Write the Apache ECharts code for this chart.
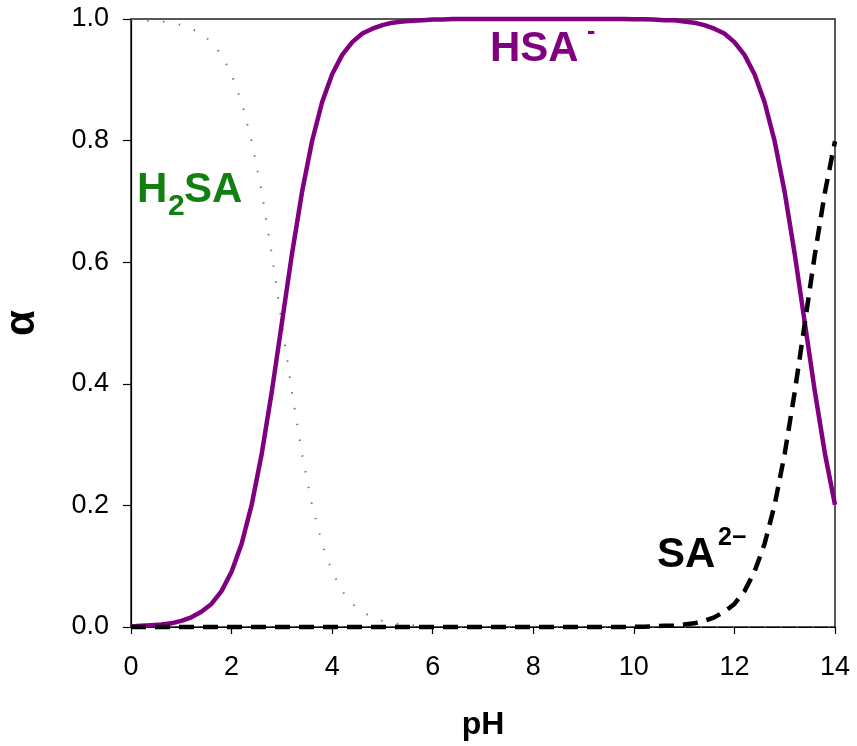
<!DOCTYPE html>
<html>
<head>
<meta charset="utf-8">
<script src="https://cdn.jsdelivr.net/npm/echarts@6/dist/echarts.min.js"></script>
<style>
html,body{margin:0;padding:0;background:#fff;}
#chart{width:857px;height:746px;}
</style>
</head>
<body>
<div id="chart"></div>
<script>
// pH sampling points
var pH = [0,0.2,0.4,0.6,0.8,1.0,1.2,1.4,1.6,1.8,2.0,2.2,2.4,2.6,2.8,3.0,3.2,3.4,3.6,3.8,
          4.0,4.2,4.4,4.6,4.8,5.0,5.2,5.4,5.6,5.8,6.0,6.2,6.4,6.6,6.8,7.0,7.2,7.4,7.6,7.8,
          8.0,8.2,8.4,8.6,8.8,9.0,9.2,9.4,9.6,9.8,10.0,10.2,10.4,10.6,10.8,11.0,11.2,11.4,11.6,11.8,
          12.0,12.2,12.4,12.6,12.8,13.0,13.2,13.4,13.6,13.8,14.0];
// alpha of H2SA
var H2SA = [0.999,0.998,0.997,0.996,0.994,0.990,0.984,0.976,0.962,0.941,0.909,0.863,0.799,0.715,0.613,0.500,0.387,0.285,0.201,0.137,
            0.091,0.059,0.038,0.025,0.016,0.010,0.006,0.004,0.003,0.002,0.001,0.001,0,0,0,0,0,0,0,0,
            0,0,0,0,0,0,0,0,0,0,0,0,0,0,0,0,0,0,0,0,
            0,0,0,0,0,0,0,0,0,0,0];
// alpha of HSA-
var HSA = [0.001,0.002,0.003,0.004,0.006,0.010,0.016,0.025,0.038,0.059,0.091,0.137,0.201,0.285,0.387,0.500,0.613,0.715,0.799,0.863,
           0.909,0.941,0.962,0.976,0.984,0.990,0.994,0.996,0.997,0.998,0.999,0.999,1.0,1.0,1.0,1.0,1.0,1.0,1.0,1.0,
           1.0,1.0,1.0,1.0,1.0,1.0,1.0,1.0,1.0,1.0,0.9996,0.9994,0.999,0.998,0.998,0.996,0.994,0.990,0.984,0.976,
           0.962,0.941,0.909,0.863,0.799,0.715,0.613,0.500,0.387,0.285,0.201];
// alpha of SA2-
var SA = [0,0,0,0,0,0,0,0,0,0,0,0,0,0,0,0,0,0,0,0,
          0,0,0,0,0,0,0,0,0,0,0,0,0,0,0,0,0,0,0,0,
          0,0,0,0,0,0,0,0,0,0,0.0004,0.0006,0.001,0.002,0.002,0.004,0.006,0.010,0.016,0.025,
          0.038,0.059,0.091,0.137,0.201,0.285,0.387,0.500,0.613,0.715,0.799];

function pairs(ys){ return pH.map(function(x,i){ return [x, ys[i]]; }); }

var chart = echarts.init(document.getElementById('chart'), null, {renderer:'canvas'});
var font = '"Liberation Sans", Arial, sans-serif';
var option = {
  backgroundColor: '#fff',
  animation: false,
  grid: {left:131, right:22, top:19, bottom:119, containLabel:false, outerBoundsMode:'none',
         show:true, borderColor:'#222', borderWidth:1.5, backgroundColor:'transparent'},
  xAxis: {
    type:'value', min:0, max:14, interval:2,
    name:'pH', nameLocation:'middle', nameGap:82,
    nameTextStyle:{fontFamily:font, fontSize:32, fontWeight:'bold', color:'#000'},
    axisLine:{show:true, lineStyle:{color:'#000', width:1.2}},
    axisTick:{show:true, inside:false, length:7, lineStyle:{color:'#000', width:1.2}},
    axisLabel:{fontFamily:font, fontSize:27, color:'#000', margin:27},
    splitLine:{show:false}
  },
  yAxis: {
    type:'value', min:0, max:1, interval:0.2,
    name:'α', nameLocation:'middle', nameGap:88, nameRotate:90,
    nameTextStyle:{fontFamily:font, fontSize:42, fontWeight:'bold', color:'#000'},
    axisLine:{show:true, lineStyle:{color:'#000', width:1.2}},
    axisTick:{show:true, inside:false, length:8, lineStyle:{color:'#000', width:1.2}},
    axisLabel:{fontFamily:font, fontSize:27, color:'#000', margin:22,
      formatter:function(v){ return v.toFixed(1); }},
    splitLine:{show:false}
  },
  series: [
    {type:'line', name:'H2SA', data:pairs(H2SA), showSymbol:false, clip:false,
     lineStyle:{color:'#3a8a3a', width:2, type:[1.5,14.5], opacity:0.9}},
    {type:'line', name:'HSA', data:pairs(HSA), showSymbol:false, clip:false,
     lineStyle:{color:'#800080', width:4.5}},
    {type:'line', name:'SA', data:pairs(SA), showSymbol:false, clip:false,
     lineStyle:{color:'#000', width:4.5, type:[15,9]}}
  ],
  graphic: [
    {type:'text', left:490, top:28, style:{text:'HSA', font:'bold 42px '+font, fill:'#800080'}},
    {type:'text', left:587, top:20, style:{text:'-', font:'bold 25px '+font, fill:'#800080'}},
    {type:'text', left:137, top:169, style:{text:'H', font:'bold 42px '+font, fill:'#118011'}},
    {type:'text', left:168, top:192, style:{text:'2', font:'bold 30px '+font, fill:'#118011'}},
    {type:'text', left:184, top:169, style:{text:'SA', font:'bold 42px '+font, fill:'#118011'}},
    {type:'text', left:657, top:534, style:{text:'SA', font:'bold 42px '+font, fill:'#000'}},
    {type:'text', left:718, top:526, style:{text:'2−', font:'bold 25px '+font, fill:'#000'}}
  ]
};
chart.setOption(option);
</script>
</body>
</html>
